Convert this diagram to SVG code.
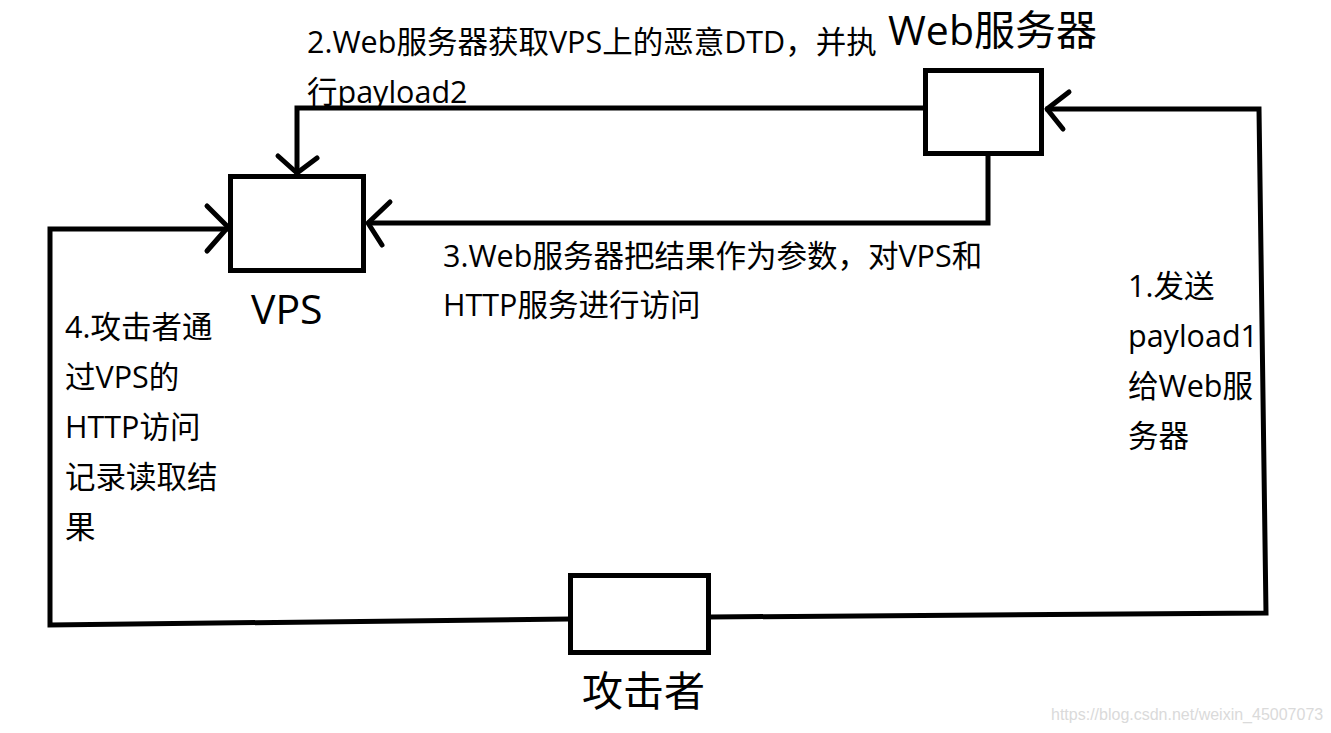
<svg xmlns="http://www.w3.org/2000/svg" width="1331" height="733" viewBox="0 0 1331 733">
<style>
  .box{fill:#fff;stroke:#000;stroke-width:5}
  .ln{fill:none;stroke:#000;stroke-width:5;stroke-linejoin:miter;stroke-linecap:square}
  .ah{fill:none;stroke:#000;stroke-width:5;stroke-linecap:round;stroke-linejoin:round}
  .t{font-family:"Open Sans","Noto Sans CJK SC",sans-serif;fill:#000}
  .lbl{font-size:30.5px}
  .big{font-size:41px}
  .wm{font-family:"Liberation Sans",Arial,sans-serif;font-size:16px;fill:#dadada}
</style>
<rect width="1331" height="733" fill="#fff"/>
<g id="connectors">
  <path class="ln" d="M923,108 H297 V172"/>
  <path class="ah" d="M278,156 L297,173 L317,158"/>
  <path class="ln" d="M988,156 V223 H370"/>
  <path class="ah" d="M390,202 L368,223 L382,245"/>
  <path class="ln" d="M711,617 L1266,613 L1259,109 H1048"/>
  <path class="ah" d="M1069,92 L1047,109 L1063,129"/>
  <path class="ln" d="M568,619 L50,625 V229 H226"/>
  <path class="ah" d="M207,206 L228,227 L207,251"/>
</g>
<g id="vps">
  <rect class="box" x="230.5" y="176.5" width="133" height="94"/>
  <text class="t big" x="251" y="324">VPS</text>
</g>
<g id="web">
  <rect class="box" x="925.5" y="70.5" width="116" height="83"/>
  <text class="t big" x="888" y="45">Web服务器</text>
</g>
<g id="attacker">
  <rect class="box" x="570.5" y="575.5" width="138" height="77"/>
  <text class="t big" x="582" y="706" font-size="40">攻击者</text>
</g>
<g id="labels">
  <text class="t lbl" x="307" y="53">2.Web服务器获取VPS上的恶意DTD，并执</text>
  <text class="t lbl" x="307" y="103">行payload2</text>
  <text class="t lbl" x="443" y="267">3.Web服务器把结果作为参数，对VPS和</text>
  <text class="t lbl" x="443" y="316">HTTP服务进行访问</text>
  <text class="t lbl" x="1128" y="297">1.发送</text>
  <text class="t lbl" x="1128" y="347">payload1</text>
  <text class="t lbl" x="1128" y="397">给Web服</text>
  <text class="t lbl" x="1128" y="447">务器</text>
  <text class="t lbl" x="65" y="338">4.攻击者通</text>
  <text class="t lbl" x="65" y="388">过VPS的</text>
  <text class="t lbl" x="65" y="438">HTTP访问</text>
  <text class="t lbl" x="65" y="488">记录读取结</text>
  <text class="t lbl" x="65" y="538">果</text>
</g>
<text class="wm" x="1051" y="720">https://blog.csdn.net/weixin_45007073</text>
</svg>
